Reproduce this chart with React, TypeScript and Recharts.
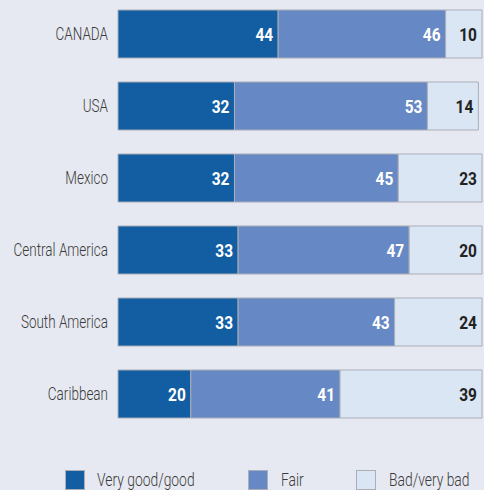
import { Bar, BarChart, LabelList, XAxis, YAxis } from 'recharts'

const bg = '#e6e9f1'
const darkBlue = '#135ea2'
const midBlue = '#6688c4'
const lightBlue = '#dae6f3'
const outline = '#a9aeb7'
const font = 'Roboto, "DejaVu Sans Condensed", sans-serif'

const regions = ['CANADA', 'USA', 'Mexico', 'Central America', 'South America', 'Caribbean']
const good = [44, 32, 32, 33, 33, 20]
const fair = [46, 53, 45, 47, 43, 41]
const bad = [10, 14, 23, 20, 24, 39]

const seriesNames = ['Very good/good', 'Fair', 'Bad/very bad']

const data = regions.map((region, i) => ({
  region,
  good: good[i],
  fair: fair[i],
  bad: bad[i],
}))

function RegionTick({ x, y, payload }: any) {
  return (
    <text
      transform={`translate(${x - 2},${y}) scale(0.71,1)`}
      textAnchor="end"
      dominantBaseline="central"
      fill="#3a3a3a"
      fontFamily={font}
      fontWeight={300}
      fontSize={19}
    >
      {payload.value}
    </text>
  )
}

function valueLabel(color: string) {
  return function ValueLabel({ x, y, width, height, value }: any) {
    return (
      <text
        transform={`translate(${x + width - 5},${y + height / 2 + 1}) scale(0.86,1)`}
        textAnchor="end"
        dominantBaseline="central"
        fill={color}
        fontFamily={font}
        fontWeight="bold"
        fontSize={18}
      >
        {value}
      </text>
    )
  }
}

function ChartLegend() {
  const items = [
    { name: seriesNames[0], color: darkBlue, x: 65, tx: 97 },
    { name: seriesNames[1], color: midBlue, x: 248, tx: 281 },
    { name: seriesNames[2], color: lightBlue, x: 356, tx: 389 },
  ]
  return (
    <svg width={484} height={22} style={{ display: 'block' }}>
      {items.map((item) => (
        <g key={item.name}>
          <rect x={item.x + 0.5} y={0.5} width={19} height={19} fill={item.color} stroke={outline} />
          <text
            transform={`translate(${item.tx},${16}) scale(0.73,1)`}
            fill="#3a3a3a"
            fontFamily={font}
            fontWeight={300}
            fontSize={19}
          >
            {item.name}
          </text>
        </g>
      ))}
    </svg>
  )
}

export default function App() {
  return (
    <div
      style={{
        position: 'fixed',
        left: 0,
        top: 0,
        width: 484,
        height: 490,
        background: bg,
        overflow: 'hidden',
      }}
    >
      <div style={{ position: 'absolute', left: 0, top: -2 }}>
        <BarChart
          width={484}
          height={432}
          data={data}
          layout="vertical"
          barSize={48}
          margin={{ top: 0, right: 2, bottom: 0, left: 0 }}
        >
          <XAxis type="number" domain={[0, 100]} hide />
          <YAxis
            type="category"
            dataKey="region"
            width={118}
            axisLine={false}
            tickLine={false}
            tick={<RegionTick />}
            interval={0}
          />
          <Bar dataKey="good" stackId="a" fill={darkBlue} stroke={outline} strokeWidth={1} isAnimationActive={false}>
            <LabelList dataKey="good" content={valueLabel('#ffffff')} />
          </Bar>
          <Bar dataKey="fair" stackId="a" fill={midBlue} stroke={outline} strokeWidth={1} isAnimationActive={false}>
            <LabelList dataKey="fair" content={valueLabel('#ffffff')} />
          </Bar>
          <Bar dataKey="bad" stackId="a" fill={lightBlue} stroke={outline} strokeWidth={1} isAnimationActive={false}>
            <LabelList dataKey="bad" content={valueLabel('#222222')} />
          </Bar>
        </BarChart>
      </div>
      <div style={{ position: 'absolute', left: 0, top: 470 }}>
        <ChartLegend />
      </div>
    </div>
  )
}
